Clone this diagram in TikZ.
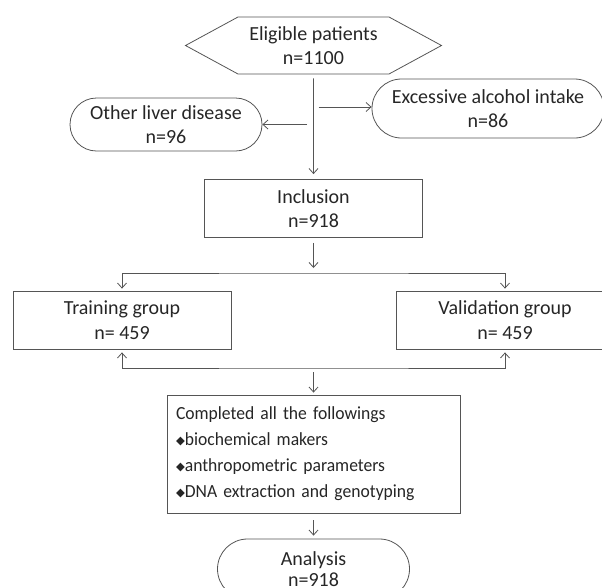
\documentclass[tikz,border=0pt]{standalone}
\usepackage{fontspec}
\setmainfont{Carlito}
\newfontfamily\compacta[FakeStretch=0.95]{Carlito}
\newfontfamily\simbolos{DejaVu Sans}
\usetikzlibrary{shapes.symbols,shapes.misc,arrows.meta}
\definecolor{linea}{HTML}{555555}
\definecolor{texto}{HTML}{262626}
\newcommand{\rombo}{\raisebox{1.5pt}{\simbolos\fontsize{11.5}{11.5}\selectfont ◆}}
\tikzset{
  base/.style={draw=linea, text=texto, align=center, inner sep=0pt,
    font=\fontsize{20}{24.5}\selectfont},
  caja/.style={base, rectangle, minimum width=218pt, minimum height=58pt},
  ovalo/.style={base, rounded rectangle},
  hexa/.style={base, signal, signal to=west and east, signal pointer angle=57,
    minimum width=256pt, minimum height=57pt}
}
\begin{document}
\begin{tikzpicture}[x=1pt, y=-1pt, line width=0.8pt,
    >={Straight Barb[length=5pt,width=9pt]}]
  \useasboundingbox (0,0) rectangle (602,587);

  % Nodos
  \node[hexa] (elegibles) at (313.5,45.5) {Eligible patients\\n=1100};
  \node[ovalo, minimum width=192pt, minimum height=53pt] (hepatica) at (166,124.5) {Other liver disease\\n=96};
  \node[ovalo, minimum width=232pt, minimum height=59pt] (alcohol) at (488,108.5) {Excessive alcohol intake\\n=86};
  \node[caja] (inclusion) at (313.5,208.5) {Inclusion\\n=918};
  \node[caja] (entrenamiento) at (122,320) {Training group\\n= 459};
  \node[caja] (validacion) at (505,320) {Validation group\\n= 459};
  \node[caja, minimum width=293pt, minimum height=118pt, text width=275pt, inner xsep=9pt,
    align=left, font=\compacta\fontsize{18.5}{26}\selectfont] (completado) at (313.5,454)
    {Completed all the followings\\\rombo biochemical makers\\\rombo anthropometric parameters\\\rombo DNA extraction and genotyping};
  \node[ovalo, minimum width=192pt, minimum height=60pt, font=\fontsize{20}{21}\selectfont] (analisis) at (313.5,569) {Analysis\\n=918};

  % Puntos auxiliares
  \coordinate (izq) at (307,124.5);
  \coordinate (der) at (318.5,107);
  \coordinate (division) at (313.5,273);
  \coordinate (union) at (313.5,368);

  % Flechas
  \draw[linea, ->, shorten <=4pt, shorten >=5pt] (elegibles) -- (inclusion);
  \draw[linea, ->] (izq) -- (izq -| hepatica.east);
  \draw[linea, ->] (der) -- (der -| alcohol.west);
  \draw[linea, ->, shorten <=5pt, shorten >=5pt] (inclusion) -- (division);
  \draw[linea, <->, shorten <=2pt, shorten >=2pt] (entrenamiento.north) |- (division) -| (validacion.north);
  \draw[linea, <->, shorten <=3pt, shorten >=3pt] (entrenamiento.south) |- (union) -| (validacion.south);
  \draw[linea, ->, shorten <=4pt, shorten >=2pt] (union) -- (completado);
  \draw[linea, ->, shorten <=7pt, shorten >=3pt] (completado) -- (analisis);
\end{tikzpicture}
\end{document}
